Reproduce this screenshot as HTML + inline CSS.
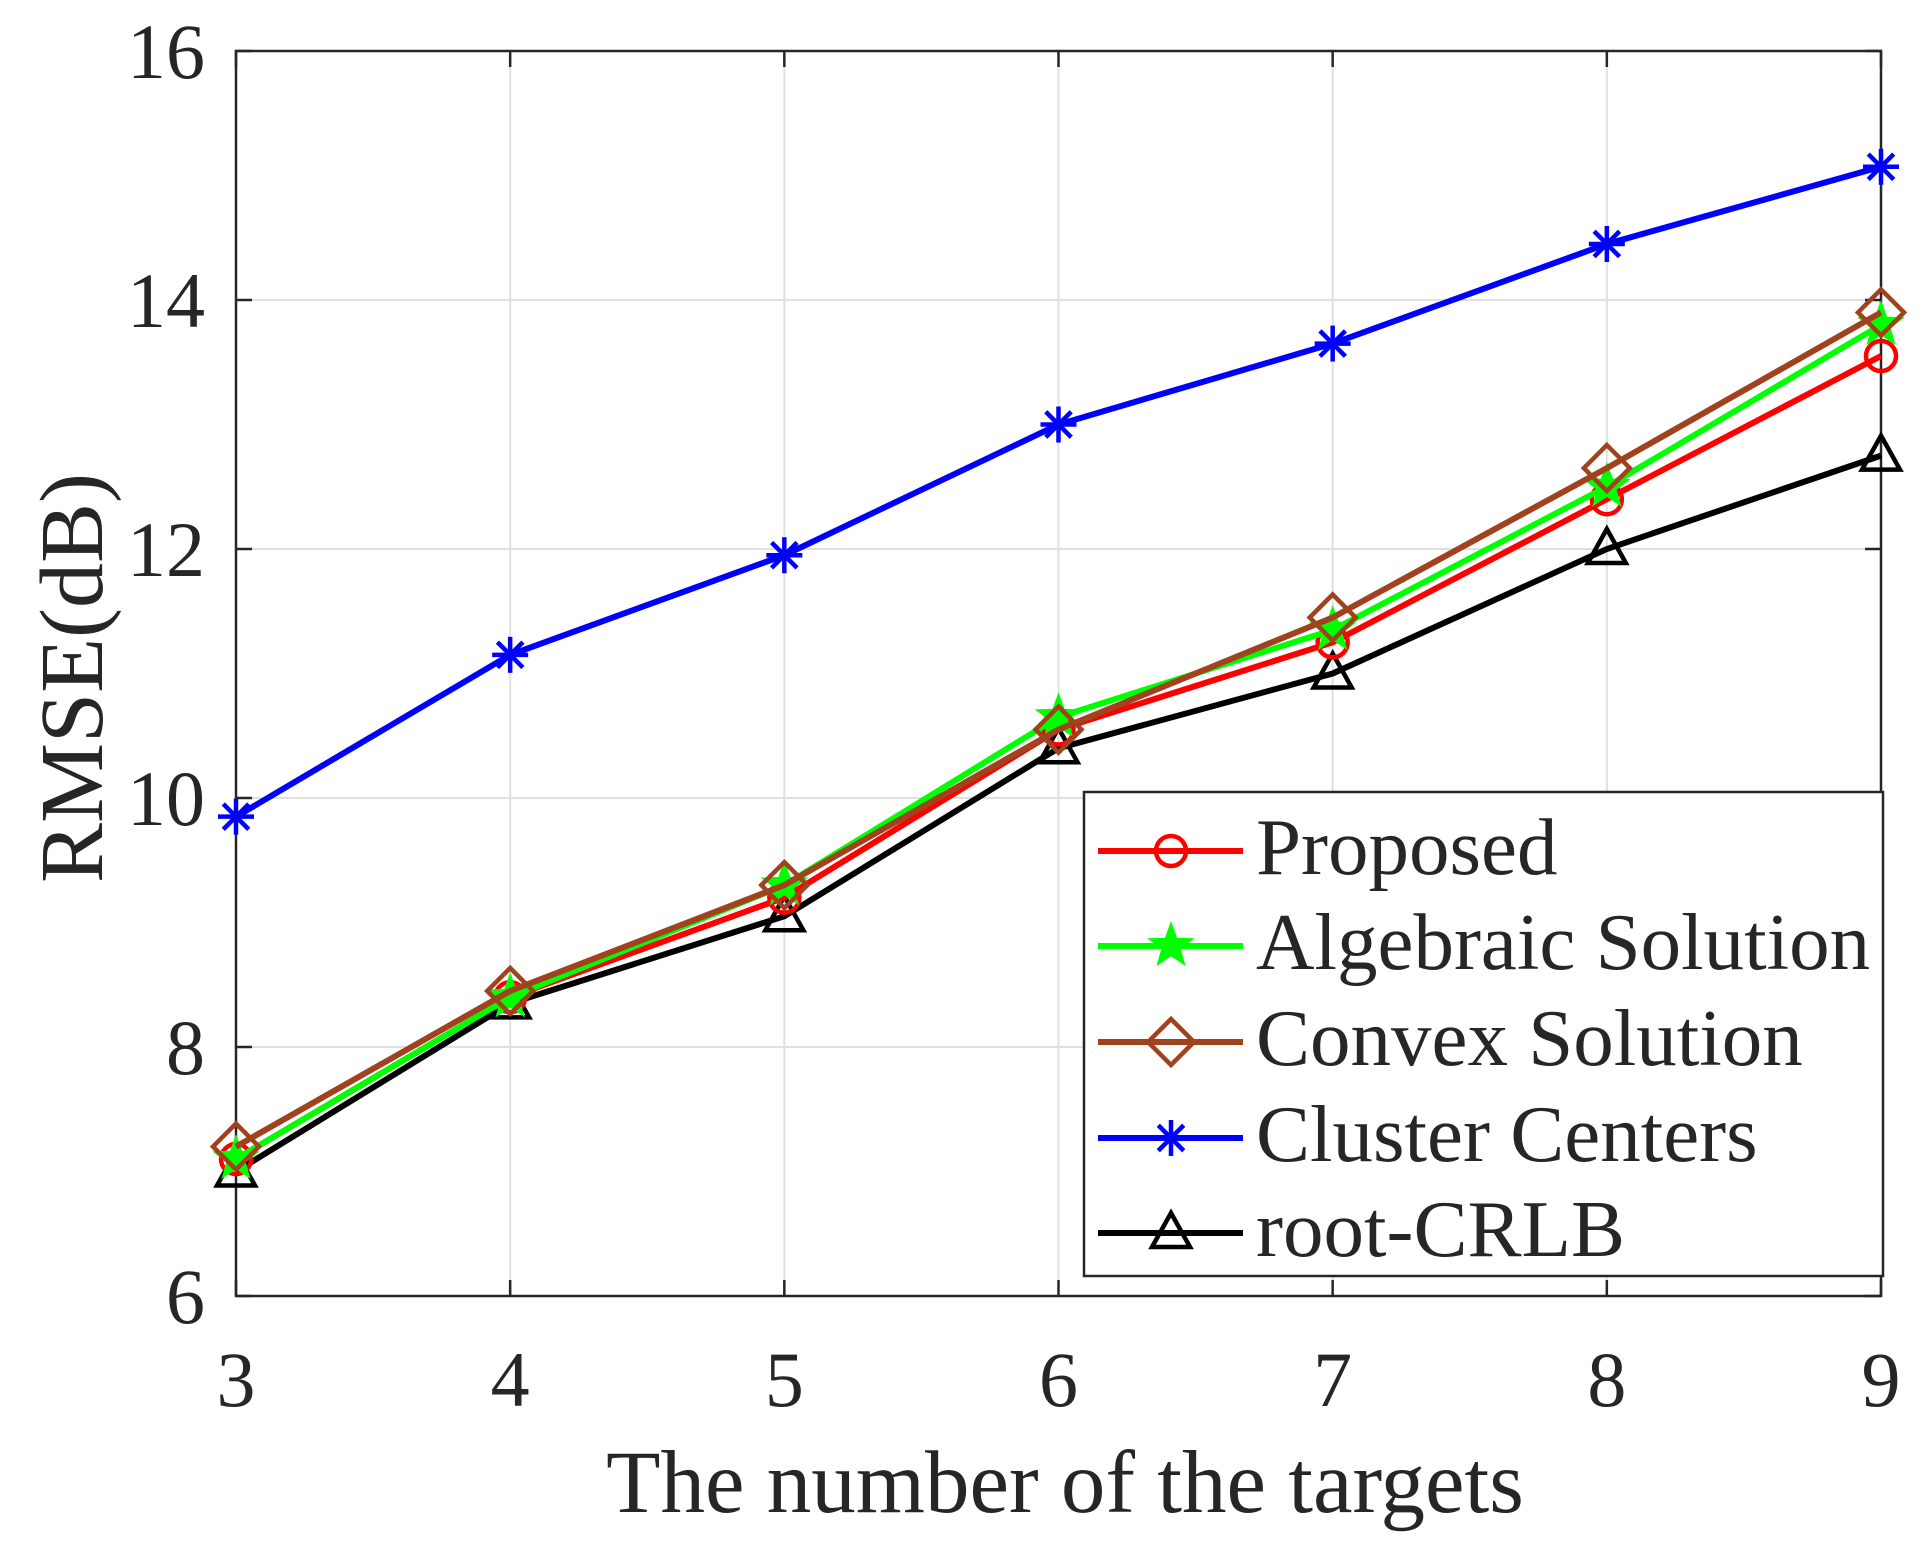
<!DOCTYPE html>
<html><head><meta charset="utf-8"><style>
html,body{margin:0;padding:0;background:#fff;}
svg{display:block;font-family:"Liberation Serif",serif;}
</style></head><body>
<svg id="s" width="1930" height="1547" viewBox="0 0 1930 1547" xmlns="http://www.w3.org/2000/svg"></svg>
<script>
const L=236,R=1881,T=51,B=1296;
const X=v=>L+(v-3)*(R-L)/6, Y=v=>B-(v-6)*(B-T)/10;
let h='';
for(let i=4;i<=8;i++)h+=`<line x1="${X(i)}" y1="${T}" x2="${X(i)}" y2="${B}" stroke="#e0e0e0" stroke-width="2"/>`;
for(let v=8;v<=14;v+=2)h+=`<line x1="${L}" y1="${Y(v)}" x2="${R}" y2="${Y(v)}" stroke="#e0e0e0" stroke-width="2"/>`;
for(let i=3;i<=9;i++){h+=`<line x1="${X(i)}" y1="${B}" x2="${X(i)}" y2="${B-16}" stroke="#262626" stroke-width="2.5"/><line x1="${X(i)}" y1="${T}" x2="${X(i)}" y2="${T+16}" stroke="#262626" stroke-width="2.5"/>`;
 h+=`<text x="${X(i)}" y="1406" font-size="78" text-anchor="middle" fill="#262626">${i}</text>`;}
for(let v=6;v<=16;v+=2){h+=`<line x1="${L}" y1="${Y(v)}" x2="${L+16}" y2="${Y(v)}" stroke="#262626" stroke-width="2.5"/><line x1="${R}" y1="${Y(v)}" x2="${R-16}" y2="${Y(v)}" stroke="#262626" stroke-width="2.5"/>`;
 h+=`<text x="205" y="${Y(v)+27}" font-size="78" text-anchor="end" fill="#262626">${v}</text>`;}
h+=`<rect x="${L}" y="${T}" width="${R-L}" height="${B-T}" fill="none" stroke="#262626" stroke-width="2.5"/>`;
h+=`<text x="1065" y="1512" font-size="89" text-anchor="middle" fill="#262626">The number of the targets</text>`;
h+=`<text transform="translate(102,678) rotate(-90)" font-size="90" text-anchor="middle" fill="#262626">RMSE(dB)</text>`;
function mk(t,x,y,c){
 if(t=='o')return `<circle cx="${x}" cy="${y}" r="15" fill="none" stroke="${c}" stroke-width="4.5"/>`;
 if(t=='d')return `<polygon points="${x},${y-23} ${x+23},${y} ${x},${y+23} ${x-23},${y}" fill="none" stroke="${c}" stroke-width="4.5"/>`;
 if(t=='^')return `<polygon points="${x},${y-20} ${x+19},${y+14} ${x-19},${y+14}" fill="none" stroke="${c}" stroke-width="4.5"/>`;
 if(t=='*'){let s='';for(let a=0;a<180;a+=45){const r=a*Math.PI/180;s+=`<line x1="${x-18*Math.cos(r)}" y1="${y-18*Math.sin(r)}" x2="${x+18*Math.cos(r)}" y2="${y+18*Math.sin(r)}" stroke="${c}" stroke-width="4.5"/>`;}return s;}
 if(t=='p'){let p=[];for(let k=0;k<10;k++){const r=(k%2?9:22),a=-Math.PI/2+k*Math.PI/5;p.push((x+r*Math.cos(a)).toFixed(1)+','+(y+r*Math.sin(a)).toFixed(1));}return `<polygon points="${p.join(' ')}" fill="${c}" stroke="${c}" stroke-width="2"/>`;}
}
const S=[
 ['Cluster Centers','#0000ff','*',[9.85,11.15,11.95,13.0,13.65,14.45,15.07]],
 ['root-CRLB','#000000','^',[7.0,8.35,9.05,10.4,11.0,12.0,12.75]],
 ['Proposed','#ff0000','o',[7.1,8.4,9.2,10.55,11.25,12.4,13.55]],
 ['Algebraic Solution','#00ff00','p',[7.1,8.4,9.3,10.65,11.35,12.5,13.8]],
 ['Convex Solution','#a0421e','d',[7.2,8.45,9.3,10.55,11.45,12.65,13.9]],
];
for(const [n,c,t,d] of S){
 h+=`<polyline points="${d.map((v,i)=>X(i+3)+','+Y(v)).join(' ')}" fill="none" stroke="${c}" stroke-width="6"/>`;
 d.forEach((v,i)=>h+=mk(t,X(i+3),Y(v),c));
}
h+=`<rect x="1084" y="792" width="799" height="484" fill="#fff" stroke="#262626" stroke-width="2.5"/>`;
const order=[2,3,4,0,1], ys=[851,946,1042,1138,1233];
order.forEach((k,i)=>{const [n,c,t]=S[k];const y=ys[i];
 h+=`<line x1="1098" y1="${y}" x2="1243" y2="${y}" stroke="${c}" stroke-width="6"/>`+mk(t,1171,y,c);
 h+=`<text x="1256" y="${y+23}" font-size="81" fill="#262626">${n}</text>`;});
document.getElementById('s').innerHTML=h;
</script>
</body></html>
